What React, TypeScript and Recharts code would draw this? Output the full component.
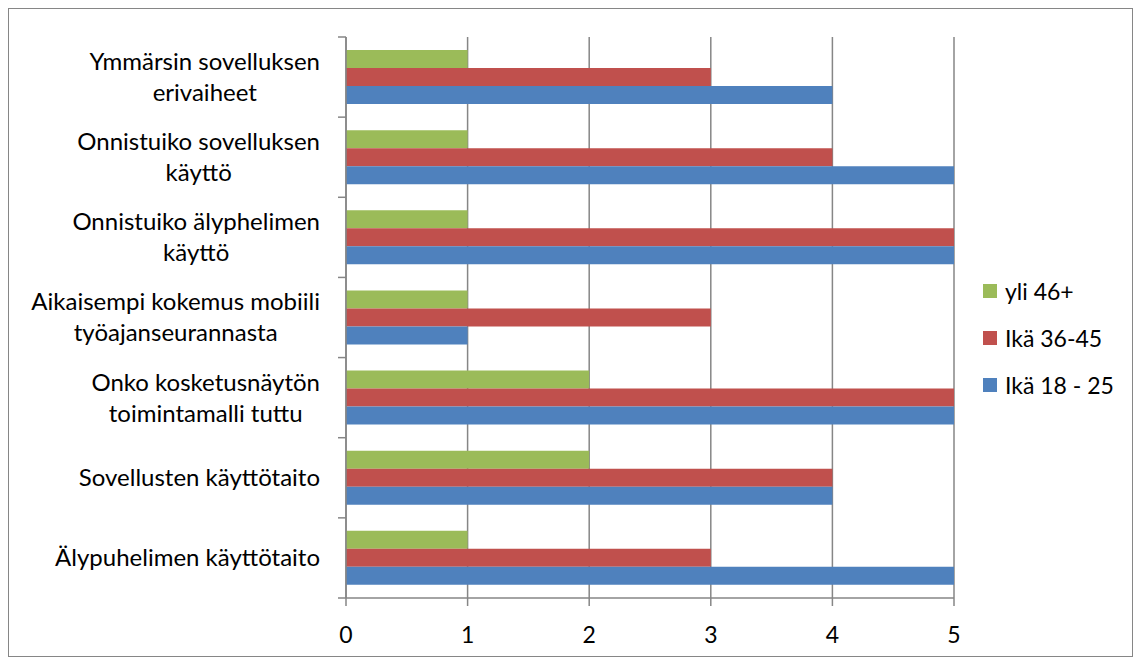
import React from 'react';
import { BarChart, Bar, XAxis, YAxis, CartesianGrid } from 'recharts';

const categories = [
  'Ymmärsin sovelluksen\nerivaiheet',
  'Onnistuiko sovelluksen\nkäyttö',
  'Onnistuiko älyphelimen\nkäyttö',
  'Aikaisempi kokemus mobiili\ntyöajanseurannasta',
  'Onko kosketusnäytön\ntoimintamalli tuttu',
  'Sovellusten käyttötaito',
  'Älypuhelimen käyttötaito',
];
const over46 = [1, 1, 1, 1, 2, 2, 1];
const age36to45 = [3, 4, 5, 3, 5, 4, 3];
const age18to25 = [4, 5, 5, 1, 5, 4, 5];
const xTicks = [0, 1, 2, 3, 4, 5];

const SERIES = [
  { key: 'over46', name: 'yli 46+', color: '#9BBB59' },
  { key: 'age36to45', name: 'Ikä 36-45', color: '#C0504D' },
  { key: 'age18to25', name: 'Ikä 18 - 25', color: '#4F81BD' },
];

const data = categories.map((c, i) => ({
  name: c,
  over46: over46[i],
  age36to45: age36to45[i],
  age18to25: age18to25[i],
}));

const FONT = 'Lato, "Open Sans", sans-serif';
const CAT_SIZE = 24;
const AXIS = '#868686';
const PLOT_H = 561;

let ctx: CanvasRenderingContext2D | null = null;
function measure(s: string) {
  if (!ctx) ctx = document.createElement('canvas').getContext('2d');
  if (!ctx) return s.length * 11;
  ctx.font = `${CAT_SIZE}px Lato`;
  return ctx.measureText(s).width;
}

function CategoryTick(props: any) {
  const { x, y, payload, index } = props;
  const band = PLOT_H / categories.length;
  const lines = String(payload.value).split('\n');
  const maxW = Math.max(...lines.map(measure));
  const cx = x - 26 - maxW / 2;
  const lh = 31;
  const y0 = y - ((lines.length - 1) * lh) / 2;
  return (
    <g>
      <line x1={x - 8} x2={x} y1={y - band / 2} y2={y - band / 2} stroke={AXIS} strokeWidth={1.5} />
      {index === categories.length - 1 && (
        <line x1={x - 8} x2={x} y1={y + band / 2} y2={y + band / 2} stroke={AXIS} strokeWidth={1.5} />
      )}
      {lines.map((l, i) => (
        <text key={i} x={cx} y={y0 + i * lh} dy="0.35em" textAnchor="middle"
          fontFamily={FONT} fontSize={CAT_SIZE} fill="#000">
          {l}
        </text>
      ))}
    </g>
  );
}

function LegendBox() {
  return (
    <div style={{ position: 'absolute', left: 974, top: 258, fontFamily: FONT, fontSize: 23, color: '#000' }}>
      {SERIES.map(s => (
        <div key={s.key} style={{ display: 'flex', alignItems: 'center', height: 47 }}>
          <span style={{ width: 14, height: 14, background: s.color, marginRight: 8, display: 'inline-block' }} />
          <span>{s.name}</span>
        </div>
      ))}
    </div>
  );
}

export default function App() {
  return (
    <div style={{ position: 'relative', width: 1123, height: 647, border: `1px solid ${AXIS}`, background: '#fff' }}>
      <BarChart width={1123} height={647} data={data} layout="vertical"
        margin={{ top: 28, right: 178, left: 0, bottom: 0 }} barSize={18} barGap={0}>
        <CartesianGrid horizontal={false} stroke={AXIS} strokeWidth={1.5} />
        <XAxis type="number" domain={[0, 5]} ticks={xTicks} height={58}
          stroke={AXIS} strokeWidth={1.5} tickSize={8}
          tick={{ fontFamily: FONT, fontSize: 23, fill: '#000', dy: 19 }} />
        <YAxis type="category" dataKey="name" width={337} stroke={AXIS} strokeWidth={1.5}
          tickLine={false} tickSize={0} tickMargin={0} interval={0} tick={<CategoryTick />} />
        {SERIES.map(s => (
          <Bar key={s.key} dataKey={s.key} name={s.name} fill={s.color} isAnimationActive={false} />
        ))}
      </BarChart>
      <LegendBox />
    </div>
  );
}
